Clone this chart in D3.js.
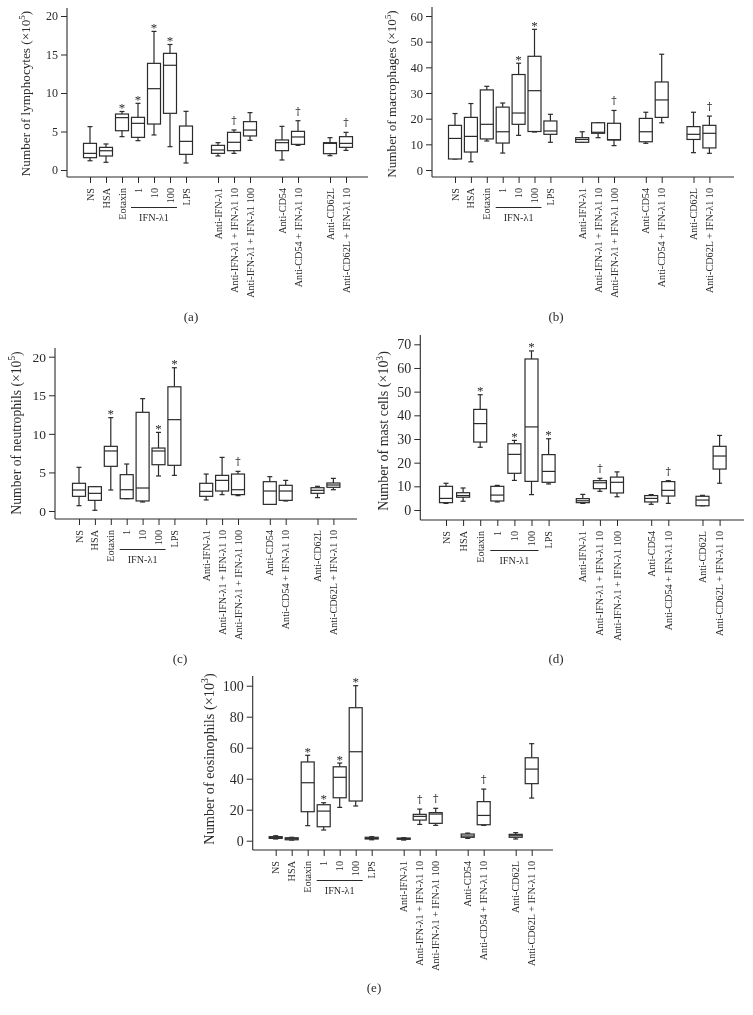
<!DOCTYPE html>
<html>
<head>
<meta charset="utf-8">
<script src="https://cdn.jsdelivr.net/npm/d3@7"></script>
<style>
  html, body { margin: 0; padding: 0; background: #fff; }
  svg { display: block; will-change: transform; }
</style>
</head>
<body>
<svg id="chart" width="753" height="1015"></svg>
<script>
// ---------------- DATA ----------------
const categories = ["NS", "HSA", "Eotaxin", "1", "10", "100", "LPS",
  "Anti-IFN-λ1", "Anti-IFN-λ1 + IFN-λ1 10", "Anti-IFN-λ1 + IFN-λ1 100",
  "Anti-CD54", "Anti-CD54 + IFN-λ1 10",
  "Anti-CD62L", "Anti-CD62L + IFN-λ1 10"];
// group index of each category (gaps between groups on the axis)
const categoryGroup = [0, 0, 0, 0, 0, 0, 0, 1, 1, 1, 2, 2, 3, 3];
const subGroupLabel = "IFN-λ1";
const subGroupMembers = ["1", "10", "100"];

// each entry: [min, q1, median, q3, max]
const lymphocytes = [
  [1.2, 1.6, 2.16, 3.46, 5.63], [1.0, 1.82, 2.5, 2.94, 3.38], [4.33, 5.1, 6.8, 7.27, 7.6],
  [3.81, 4.24, 6.06, 6.84, 8.66], [4.55, 5.97, 10.56, 13.85, 18.0], [3.03, 7.36, 13.6, 15.15, 16.3],
  [0.91, 2.03, 3.72, 5.71, 7.62], [1.82, 2.16, 2.6, 3.2, 3.55], [2.16, 2.51, 3.6, 4.89, 5.2],
  [3.85, 4.42, 5.19, 6.28, 7.45], [1.3, 2.51, 3.55, 3.9, 5.67], [3.2, 3.33, 4.29, 5.02, 6.4],
  [1.86, 2.12, 3.46, 3.55, 4.2], [2.55, 2.94, 3.46, 4.33, 4.89]];
const macrophages = [
  [4.3, 4.3, 12.3, 17.4, 22.0], [3.2, 7.0, 13.1, 20.5, 25.9], [11.3, 12.1, 17.8, 31.2, 32.6],
  [6.6, 10.5, 14.9, 24.5, 26.1], [13.5, 17.8, 22.2, 37.2, 41.6], [14.8, 15.0, 30.9, 44.3, 54.8],
  [10.8, 13.9, 15.2, 19.1, 21.7], [10.8, 10.8, 11.9, 12.6, 14.9], [12.6, 14.3, 14.7, 18.4, 18.4],
  [9.5, 11.7, 11.8, 18.2, 23.2], [10.4, 11.0, 14.9, 20.1, 22.5], [18.4, 20.5, 27.3, 34.3, 45.1],
  [6.75, 11.9, 13.9, 16.9, 22.5], [6.5, 8.6, 14.3, 17.4, 21.0]];
const neutrophils = [
  [0.69, 1.9, 2.72, 3.59, 5.66], [0.09, 1.38, 2.29, 3.15, 3.15], [2.72, 5.79, 7.78, 8.38, 12.1],
  [1.6, 1.6, 2.76, 4.71, 6.09], [1.17, 1.3, 2.98, 12.79, 14.56], [4.54, 6.0, 7.78, 8.16, 10.19],
  [4.62, 5.92, 11.84, 16.1, 18.57], [1.43, 1.9, 2.55, 3.59, 4.79], [2.12, 2.59, 3.97, 4.62, 6.95],
  [1.99, 2.12, 2.76, 4.79, 5.14], [0.86, 0.86, 2.59, 3.8, 4.45], [1.3, 1.38, 2.59, 3.33, 3.97],
  [1.73, 2.29, 2.68, 3.02, 3.2], [2.76, 3.07, 3.37, 3.63, 4.23]];
const mastCells = [
  [2.8, 3.1, 4.9, 10.0, 11.3], [3.7, 5.4, 6.1, 7.3, 9.3], [26.5, 28.7, 36.5, 42.5, 48.7],
  [3.4, 3.8, 6.3, 10.0, 10.4], [12.5, 15.5, 23.5, 28.0, 29.4], [6.5, 12.1, 35.1, 63.8, 67.2],
  [11.0, 11.7, 16.3, 23.4, 30.1], [2.8, 3.1, 3.9, 4.8, 6.6], [7.9, 9.0, 11.5, 12.4, 13.4],
  [5.6, 7.2, 11.7, 13.9, 16.1], [2.4, 3.4, 4.9, 6.1, 6.5], [2.8, 5.9, 8.3, 12.0, 12.4],
  [1.8, 1.8, 4.2, 5.8, 6.2], [11.3, 17.3, 22.8, 26.9, 31.5]];
const eosinophils = [
  [1.1, 1.5, 2.2, 2.6, 3.2], [0.4, 0.6, 1.3, 1.9, 2.2], [9.7, 18.7, 37.4, 50.8, 55.1],
  [6.9, 9.0, 19.1, 23.2, 24.5], [21.5, 27.7, 40.9, 47.7, 50.1], [22.4, 25.6, 57.4, 85.8, 100],
  [0.6, 1.1, 1.5, 2.2, 2.6], [0.4, 0.9, 1.3, 1.7, 1.9], [10.5, 13.3, 15.7, 17.0, 20.4],
  [9.9, 11.2, 17.2, 18.1, 20.9], [1.5, 2.2, 3.0, 4.3, 4.9], [9.9, 10.3, 16.3, 25.2, 33.3],
  [1.1, 2.2, 3.2, 4.1, 5.2], [27.5, 36.8, 46.2, 53.5, 62.6]];

// significance marks per category
const lymphMarks = ["", "", "*", "*", "*", "*", "", "", "†", "", "", "†", "", "†"];
const macroMarks = ["", "", "", "", "*", "*", "", "", "", "†", "", "", "", "†"];
const neutroMarks = ["", "", "*", "", "", "*", "*", "", "", "†", "", "", "", ""];
const mastMarks = ["", "", "*", "", "*", "*", "*", "", "†", "", "", "†", "", ""];
const eosMarks = ["", "", "*", "*", "*", "*", "", "", "†", "†", "", "†", "", ""];

// y tick labels
const yTicksA = [0, 5, 10, 15, 20];
const yTicksB = [0, 10, 20, 30, 40, 50, 60];
const yTicksC = [0, 5, 10, 15, 20];
const yTicksD = [0, 10, 20, 30, 40, 50, 60, 70];
const yTicksE = [0, 20, 40, 60, 80, 100];

const titles = ["Number of lymphocytes (×10", "Number of macrophages (×10", "Number of neutrophils (×10",
  "Number of mast cells (×10", "Number of eosinophils (×10"];
const titleExp = ["5", "5", "5", "3", "3"];
const panelLabels = ["(a)", "(b)", "(c)", "(d)", "(e)"];

// ---------------- LAYOUT ----------------
const FONT = "'Liberation Serif', 'Times New Roman', Times, serif";
const MARKFONT = "'DejaVu Serif', 'Liberation Serif', serif";
const INK = "#2a2a2a";
const layouts = [
  {yAxisX: 67, xAxisY: 177, yTop: 8, y0: 170, yMaxPx: 16, slot0: 90, step: 16, xRight: 368,
   tickFont: 12, titleFont: 13.2, titleX: 30, titleY: 93.5, labX: 191, labY: 321},
  {yAxisX: 432, xAxisY: 177, yTop: 7, y0: 170, yMaxPx: 16, slot0: 455, step: 15.9, xRight: 734,
   tickFont: 12.5, titleFont: 13.2, titleX: 396, titleY: 94, labX: 556, labY: 321},
  {yAxisX: 55, xAxisY: 519, yTop: 348, y0: 511, yMaxPx: 356.7, slot0: 79, step: 15.9, xRight: 357,
   tickFont: 13.5, titleFont: 13.7, titleX: 20.5, titleY: 433, labX: 180, labY: 663},
  {yAxisX: 420.3, xAxisY: 520, yTop: 335, y0: 510, yMaxPx: 344.3, slot0: 446, step: 17.1, xRight: 744,
   tickFont: 14, titleFont: 14, titleX: 388, titleY: 431, labX: 556, labY: 663},
  {yAxisX: 252.7, xAxisY: 850, yTop: 676, y0: 840.7, yMaxPx: 685.7, slot0: 275.7, step: 16, xRight: 553,
   tickFont: 14, titleFont: 14.3, titleX: 213.5, titleY: 759, labX: 374, labY: 992}
];
const panelData = [lymphocytes, macrophages, neutrophils, mastCells, eosinophils];
const panelMarks = [lymphMarks, macroMarks, neutroMarks, mastMarks, eosMarks];
const panelTicks = [yTicksA, yTicksB, yTicksC, yTicksD, yTicksE];

const svg = d3.select("#chart");
svg.append("rect").attr("width", 753).attr("height", 1015).attr("fill", "#fff");

panelData.forEach((data, p) => {
  const L = layouts[p];
  const ticks = panelTicks[p];
  const g = svg.append("g");
  const slots = categories.map((c, i) => i + categoryGroup[i]);
  const nSlots = d3.max(slots);
  const x = d3.scaleLinear().domain([0, nSlots]).range([L.slot0, L.slot0 + nSlots * L.step]);
  const y = d3.scaleLinear().domain([0, d3.max(ticks)]).range([L.y0, L.yMaxPx]);
  const bw = 13, cw = 5;

  // y axis
  const ya = g.append("g").attr("transform", `translate(${L.yAxisX},0)`)
    .call(d3.axisLeft(y).tickValues(ticks).tickSize(6).tickPadding(3).tickSizeOuter(0));
  ya.select(".domain").remove();
  ya.selectAll("line").attr("stroke", INK).attr("stroke-width", 1);
  ya.selectAll("text").attr("font-family", FONT).attr("font-size", L.tickFont).attr("fill", INK);
  g.append("line").attr("x1", L.yAxisX).attr("x2", L.yAxisX).attr("y1", L.yTop).attr("y2", L.xAxisY)
    .attr("stroke", INK).attr("stroke-width", 1.1);

  // x axis
  g.append("line").attr("x1", L.yAxisX).attr("x2", L.xRight).attr("y1", L.xAxisY).attr("y2", L.xAxisY)
    .attr("stroke", INK).attr("stroke-width", 1.1);
  const xa = g.append("g").attr("transform", `translate(0,${L.xAxisY})`)
    .call(d3.axisBottom(x).tickValues(slots).tickSize(6).tickFormat(() => ""));
  xa.select(".domain").remove();
  xa.selectAll("line").attr("stroke", INK).attr("stroke-width", 1);

  // rotated category labels
  g.selectAll("text.cat").data(categories).enter().append("text")
    .attr("class", "cat")
    .attr("transform", (d, i) => `translate(${x(slots[i])},${L.xAxisY + 11}) rotate(-90)`)
    .attr("text-anchor", "end").attr("dy", "0.35em")
    .attr("font-family", FONT).attr("font-size", 10.2).attr("fill", INK)
    .text(d => d);

  // sub-group bracket
  const mIdx = subGroupMembers.map(m => categories.indexOf(m));
  const gx1 = x(slots[mIdx[0]]) - 7, gx2 = x(slots[mIdx[mIdx.length - 1]]) + 7;
  g.append("line").attr("x1", gx1).attr("x2", gx2).attr("y1", L.xAxisY + 30.5).attr("y2", L.xAxisY + 30.5)
    .attr("stroke", INK).attr("stroke-width", 1);
  g.append("text").attr("x", (gx1 + gx2) / 2).attr("y", L.xAxisY + 44)
    .attr("text-anchor", "middle").attr("font-family", FONT).attr("font-size", 10.2).attr("fill", INK)
    .text(subGroupLabel);

  // boxes
  const boxes = g.selectAll("g.box").data(data).enter().append("g").attr("class", "box")
    .attr("transform", (d, i) => `translate(${x(slots[i])},0)`);
  const st = {stroke: INK, sw: 1.2};
  boxes.append("line").attr("x1", 0).attr("x2", 0).attr("y1", d => y(d[4])).attr("y2", d => y(d[3]))
    .attr("stroke", st.stroke).attr("stroke-width", st.sw);
  boxes.append("line").attr("x1", 0).attr("x2", 0).attr("y1", d => y(d[1])).attr("y2", d => y(d[0]))
    .attr("stroke", st.stroke).attr("stroke-width", st.sw);
  boxes.append("line").attr("x1", -cw / 2).attr("x2", cw / 2).attr("y1", d => y(d[4])).attr("y2", d => y(d[4]))
    .attr("stroke", st.stroke).attr("stroke-width", st.sw);
  boxes.append("line").attr("x1", -cw / 2).attr("x2", cw / 2).attr("y1", d => y(d[0])).attr("y2", d => y(d[0]))
    .attr("stroke", st.stroke).attr("stroke-width", st.sw);
  boxes.append("rect").attr("x", -bw / 2).attr("width", bw)
    .attr("y", d => y(d[3])).attr("height", d => Math.max(0.5, y(d[1]) - y(d[3])))
    .attr("fill", "#fff").attr("stroke", st.stroke).attr("stroke-width", st.sw);
  boxes.append("line").attr("x1", -bw / 2).attr("x2", bw / 2).attr("y1", d => y(d[2])).attr("y2", d => y(d[2]))
    .attr("stroke", st.stroke).attr("stroke-width", st.sw);

  // significance marks
  const marks = panelMarks[p];
  boxes.append("text")
    .attr("x", 0)
    .attr("y", (d, i) => marks[i] === "†" ? y(d[4]) - 6 : y(d[4]) + 0.5)
    .attr("text-anchor", "middle")
    .attr("font-family", (d, i) => marks[i] === "†" ? MARKFONT : FONT)
    .attr("font-size", (d, i) => marks[i] === "†" ? 11 : 13)
    .attr("fill", INK)
    .text((d, i) => marks[i]);

  // y title
  const t = g.append("text")
    .attr("transform", `translate(${L.titleX},${L.titleY}) rotate(-90)`)
    .attr("text-anchor", "middle").attr("font-family", FONT).attr("font-size", L.titleFont).attr("fill", INK);
  t.append("tspan").text(titles[p]);
  t.append("tspan").attr("dy", -L.titleFont * 0.38).attr("font-size", L.titleFont * 0.68).text(titleExp[p]);
  t.append("tspan").attr("dy", L.titleFont * 0.38).text(")");

  // panel label
  g.append("text").attr("x", L.labX).attr("y", L.labY).attr("text-anchor", "middle")
    .attr("font-family", FONT).attr("font-size", 13).attr("fill", INK).text(panelLabels[p]);
});
</script>
</body>
</html>
